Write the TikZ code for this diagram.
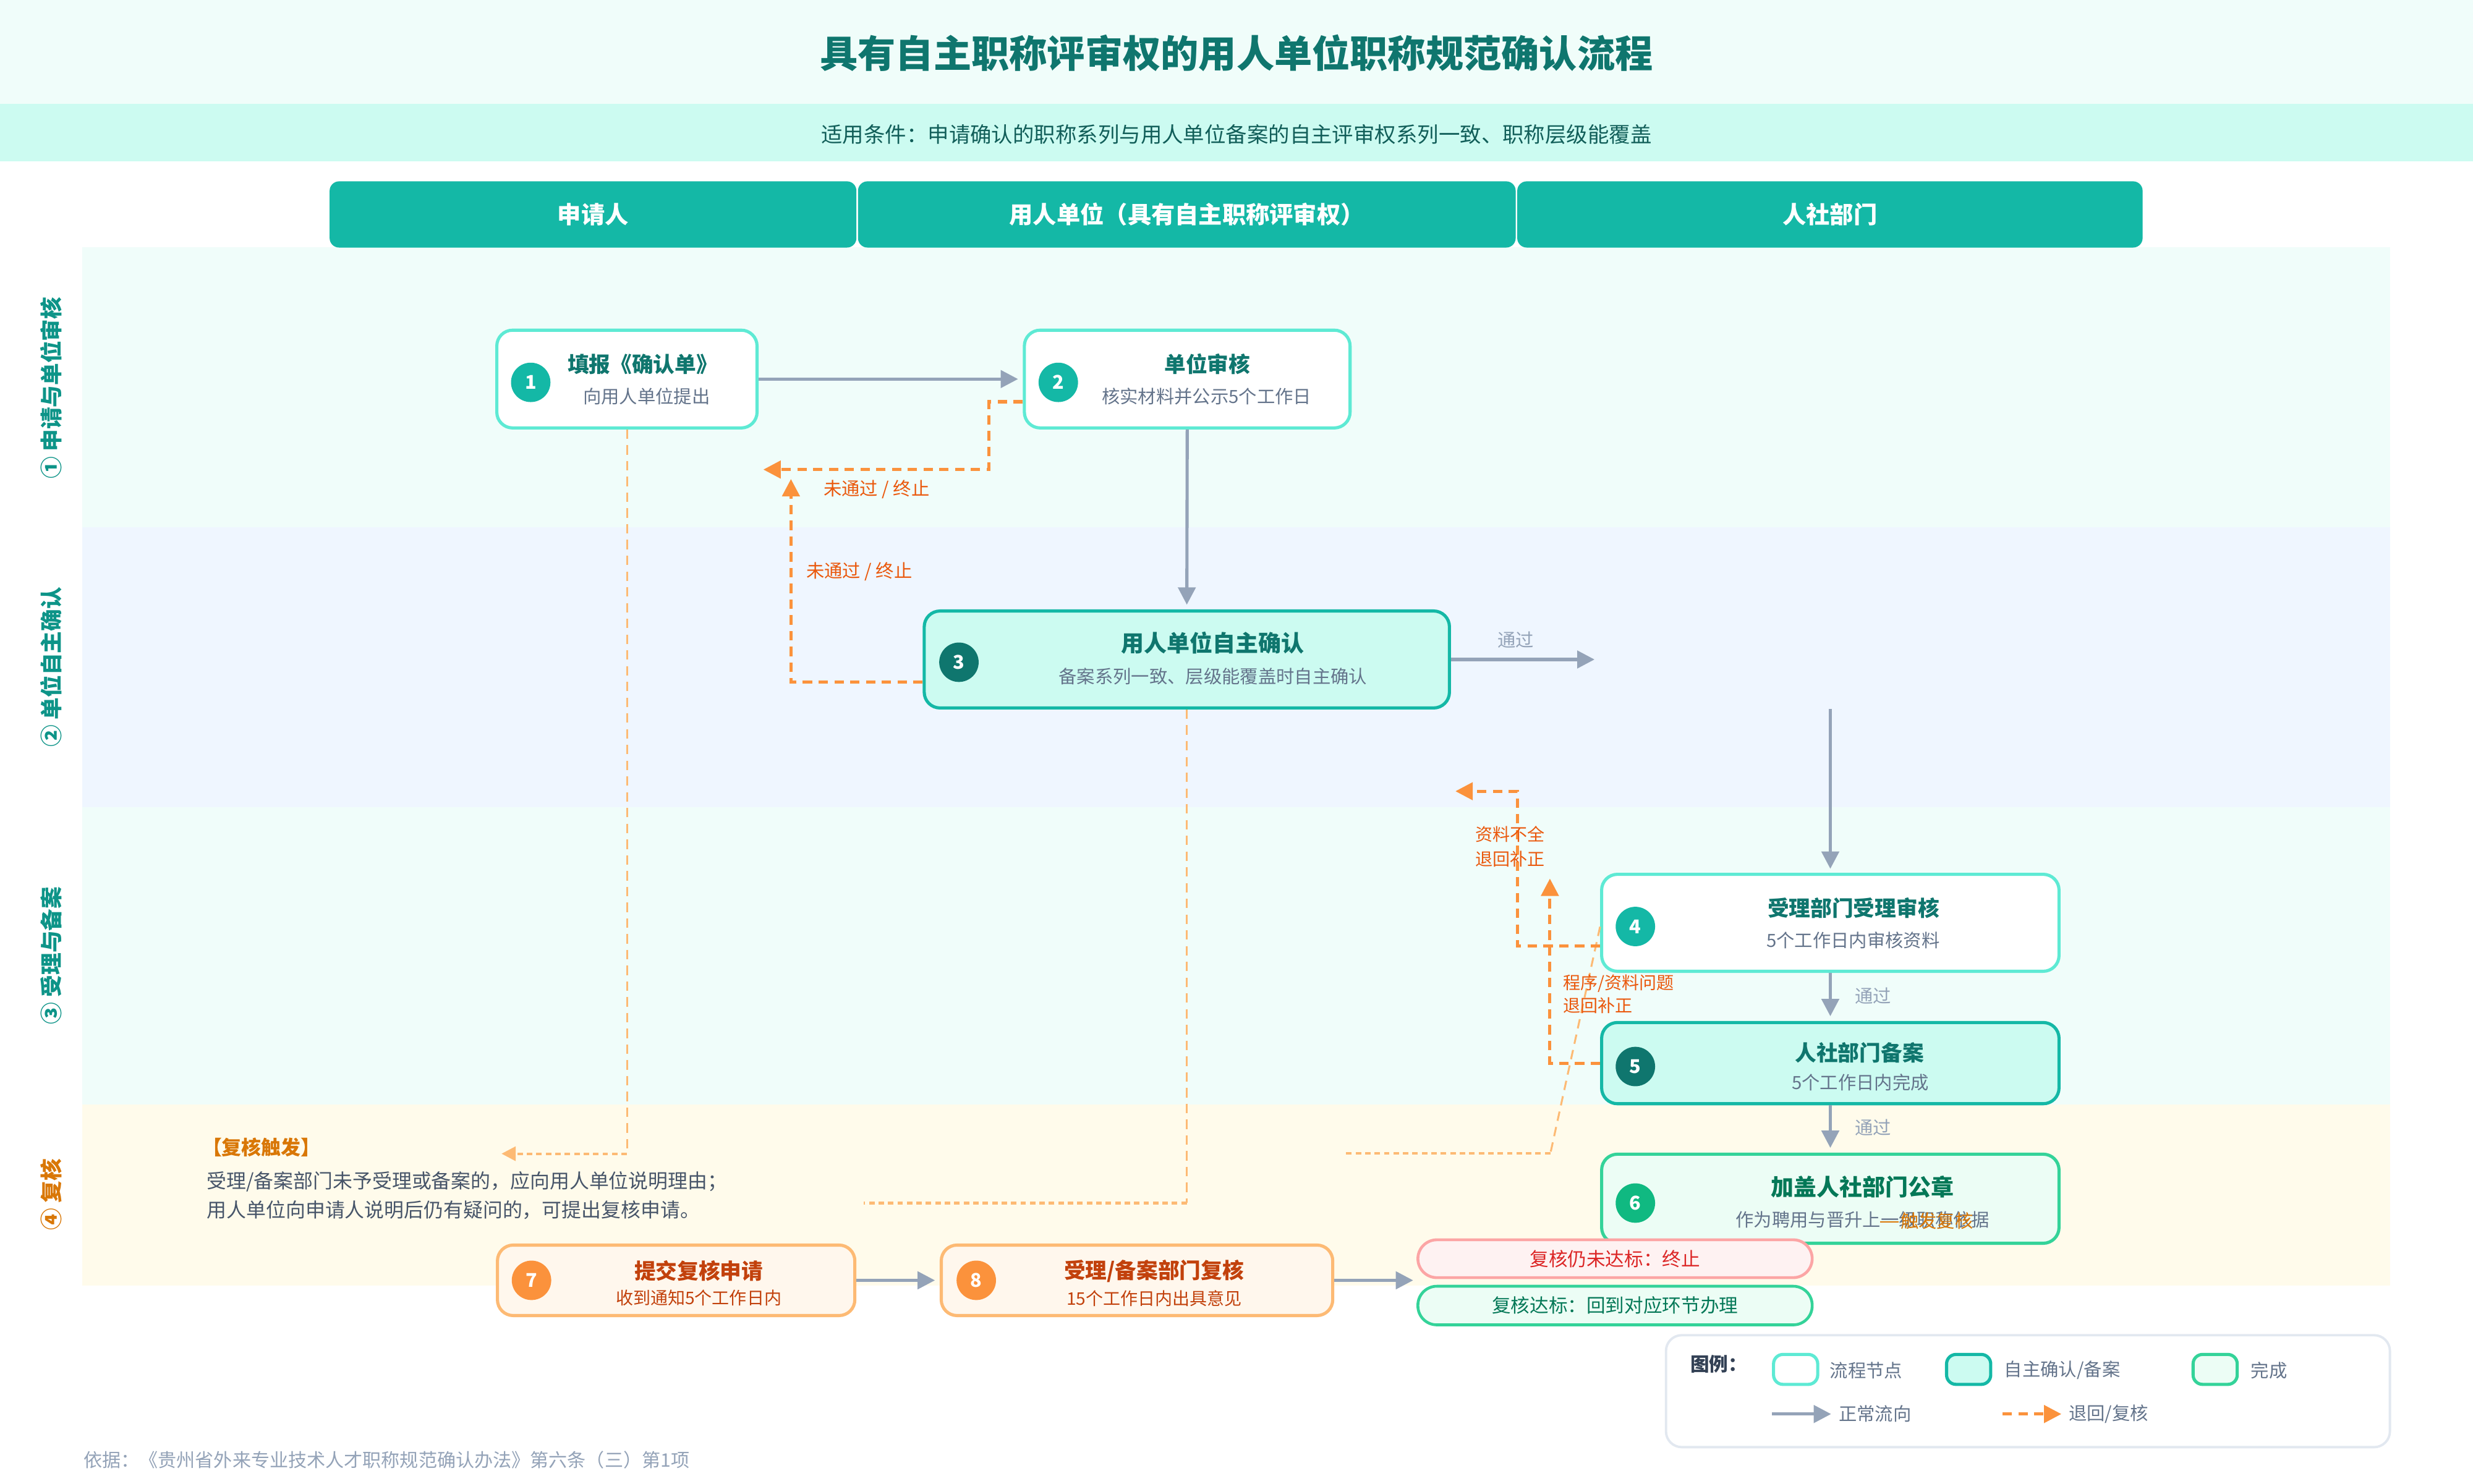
\documentclass[tikz,border=0pt]{standalone}
\usepackage{fontspec}
\setmainfont{Noto Sans CJK SC}
\usetikzlibrary{arrows.meta}
\definecolor{cBand}{HTML}{F0FDFA}
\definecolor{cSubBand}{HTML}{CCFBF1}
\definecolor{cTab}{HTML}{14B8A6}
\definecolor{cLaneA}{HTML}{F0FDFA}
\definecolor{cLaneB}{HTML}{EFF6FF}
\definecolor{cLaneD}{HTML}{FFFBEB}
\definecolor{cTealDark}{HTML}{0F766E}
\definecolor{cTeal}{HTML}{14B8A6}
\definecolor{cLight}{HTML}{5EEAD4}
\definecolor{cMint}{HTML}{CCFBF1}
\definecolor{cGreen}{HTML}{34D399}
\definecolor{cGreenBg}{HTML}{ECFDF5}
\definecolor{cGreenC}{HTML}{10B981}
\definecolor{cGreenT}{HTML}{047857}
\definecolor{cOrL}{HTML}{FDBA74}
\definecolor{cOr}{HTML}{FB923C}
\definecolor{cOrBg}{HTML}{FFF7ED}
\definecolor{cOrT}{HTML}{C2410C}
\definecolor{cOrLab}{HTML}{EA580C}
\definecolor{cAmber}{HTML}{D97706}
\definecolor{cGray}{HTML}{94A3B8}
\definecolor{cSub}{HTML}{64748B}
\definecolor{cPara}{HTML}{475569}
\definecolor{cRedBg}{HTML}{FEF2F2}
\definecolor{cRedB}{HTML}{FCA5A5}
\definecolor{cRedT}{HTML}{DC2626}
\definecolor{cLegB}{HTML}{E2E8F0}
\definecolor{cLegT}{HTML}{334155}
\definecolor{cLaneLab}{HTML}{0D9488}
\definecolor{cSubTxt}{HTML}{115E59}
\begin{document}
\begin{tikzpicture}[x=1pt,y=-1pt,
  proc/.style={rectangle, rounded corners=10pt, line width=2pt, inner sep=0pt},
  nodeA/.style={proc, draw=cLight, fill=white},
  nodeB/.style={proc, draw=cTeal, fill=cMint},
  nodeC/.style={proc, draw=cGreen, fill=cGreenBg},
  nodeD/.style={proc, draw=cOrL, fill=cOrBg},
  pill/.style={rectangle, rounded corners=12pt, line width=1.8pt, inner sep=0pt, minimum width=250pt},
  numc/.style={circle, minimum size=25pt, inner sep=0pt, text=white, font=\bfseries\fontsize{12}{12}\selectfont},
  ttl/.style={inner sep=0pt, font=\bfseries\fontsize{13.6}{16}\selectfont, text=cTealDark},
  subt/.style={inner sep=0pt, font=\fontsize{11.5}{14}\selectfont, text=cSub},
  tabhead/.style={rectangle, rounded corners=6pt, fill=cTab, inner sep=0pt, minimum height=42pt, text=white, font=\bfseries\fontsize{15}{18}\selectfont},
  lanelab/.style={rotate=90, inner sep=0pt, font=\bfseries\fontsize{14}{16}\selectfont},
  garrow/.style={draw=cGray, line width=2pt, -{Triangle[length=11pt,width=11pt]}},
  oret/.style={draw=cOr, line width=2pt, dash pattern=on 6pt off 4pt, -{Triangle[length=11pt,width=11pt]}},
  revv/.style={draw=cOrL, line width=1.2pt, dash pattern=on 6pt off 4pt},
  revh/.style={draw=cOrL, line width=1.6pt, dash pattern=on 3.5pt off 2.5pt},
  olab/.style={inner sep=0pt, font=\fontsize{11}{13}\selectfont, text=cOrLab},
  glab/.style={inner sep=0pt, font=\fontsize{11.5}{13}\selectfont, text=cGray},
  legsw/.style={rectangle, rounded corners=6pt, line width=2pt, minimum width=28pt, minimum height=19pt, inner sep=0pt},
  legtxt/.style={anchor=west, inner sep=0pt, font=\fontsize{11.5}{13}\selectfont, text=cSub}
]
\useasboundingbox (0,0) rectangle (1568,940.8);
\fill[white] (0,0) rectangle (1568,940.8);
% bands
\fill[cBand] (0,0) rectangle (1568,66);
\fill[cSubBand] (0,66) rectangle (1568,102.3);
\node[inner sep=0pt, font=\bfseries\fontsize{24}{28}\selectfont, text=cTealDark] (title) at (784,33.7) {具有自主职称评审权的用人单位职称规范确认流程};
\node[inner sep=0pt, font=\fontsize{13.5}{16}\selectfont, text=cSubTxt] (cond) at (784,85.3) {适用条件：申请确认的职称系列与用人单位备案的自主评审权系列一致、职称层级能覆盖};
% lanes
\fill[cLaneA] (52,156.8) rectangle (1515.5,334.4);
\fill[cLaneB] (52,334.4) rectangle (1515.5,511.8);
\fill[cLaneA] (52,511.8) rectangle (1515.5,700.4);
\fill[cLaneD] (52,700.4) rectangle (1515.5,815.2);
% header tabs
\node[tabhead, minimum width=334pt] (h1) at (376,136) {申请人};
\node[tabhead, minimum width=417pt] (h2) at (752.5,136) {用人单位（具有自主职称评审权）};
\node[tabhead, minimum width=396.5pt] (h3) at (1160.25,136) {人社部门};
% lane labels
\node[lanelab, text=cLaneLab] (l1) at (32.5,246) {① 申请与单位审核};
\node[lanelab, text=cLaneLab] (l2) at (32.5,423) {② 单位自主确认};
\node[lanelab, text=cLaneLab] (l3) at (32.5,606) {③ 受理与备案};
\node[lanelab, text=cAmber] (l4) at (32.5,757.6) {④ 复核};

% review trigger dashed lines (behind)
\coordinate (k1) at (397.5,731.7);
\coordinate (rv1) at (318,731.7);
\coordinate (k2) at (752.5,763);
\coordinate (rv2) at (547.8,763);
\coordinate (k3) at (983,731.5);
\coordinate (rv3) at (852,731.5);

% nodes
\node[nodeA, minimum width=165pt, minimum height=62pt] (n1) at (397.5,240.4) {};
\node[nodeA, minimum width=206.5pt, minimum height=62pt] (n2) at (752.75,240.4) {};
\node[nodeB, minimum width=333pt, minimum height=61.5pt] (n3) at (752.5,418.25) {};
\node[nodeA, minimum width=290pt, minimum height=61.5pt] (n4) at (1160.5,585.25) {};
\node[nodeB, minimum width=290pt, minimum height=51.5pt] (n5) at (1160.5,674.25) {};
\node[nodeC, minimum width=290pt, minimum height=56.5pt] (n6) at (1160.5,760.25) {};
\node[nodeD, minimum width=226.6pt, minimum height=44.7pt] (n7) at (428.7,812) {};
\node[nodeD, minimum width=248.2pt, minimum height=44.7pt] (n8) at (720.9,812) {};
\node[pill, draw=cRedB, fill=cRedBg, minimum height=24pt, text=cRedT, font=\fontsize{12}{14}\selectfont] (r1) at (1024,798.3) {复核仍未达标：终止};
\node[pill, draw=cGreen, fill=cGreenBg, minimum height=24.5pt, text=cGreenT, font=\fontsize{12}{14}\selectfont] (r2) at (1024,828) {复核达标：回到对应环节办理};

% circles
\node[numc, fill=cTeal] (c1) at (336.5,242.5) {1};
\node[numc, fill=cTeal] (c2) at (671,242.5) {2};
\node[numc, fill=cTealDark] (c3) at (608,420) {3};
\node[numc, fill=cTeal] (c4) at (1036.9,587.6) {4};
\node[numc, fill=cTealDark] (c5) at (1036.9,676.4) {5};
\node[numc, fill=cGreenC] (c6) at (1036.9,763) {6};
\node[numc, fill=cOr] (c7) at (337,812) {7};
\node[numc, fill=cOr] (c8) at (619,812) {8};

% titles and subtitles
\node[ttl] (t1) at (407.5,231) {填报《确认单》};
\node[subt] (s1) at (410,251.3) {向用人单位提出};
\node[ttl] (t2) at (765.5,231) {单位审核};
\node[subt] (s2) at (765,251.3) {核实材料并公示5个工作日};
\node[ttl, font=\bfseries\fontsize{14.5}{17}\selectfont] (t3) at (769,407.8) {用人单位自主确认};
\node[subt] (s3) at (769,428.8) {备案系列一致、层级能覆盖时自主确认};
\node[ttl] (t4) at (1175.2,575.8) {受理部门受理审核};
\node[subt] (s4) at (1175,596.3) {5个工作日内审核资料};
\node[ttl] (t5) at (1179,667.8) {人社部门备案};
\node[subt] (s5) at (1179.5,686.4) {5个工作日内完成};
\node[ttl, text=cGreenT, font=\bfseries\fontsize{14.5}{17}\selectfont] (t6) at (1181,752.8) {加盖人社部门公章};
\node[subt] (s6) at (1181,773.6) {作为聘用与晋升上一级职称依据};
\node[ttl, text=cOrT] (t7) at (443,806) {提交复核申请};
\node[subt, text=cOrT, font=\fontsize{11}{13}\selectfont] (s7) at (443,823.3) {收到通知5个工作日内};
\node[ttl, text=cOrT] (t8) at (731.7,806) {受理/备案部门复核};
\node[subt, text=cOrT, font=\fontsize{11}{13}\selectfont] (s8) at (731.8,823.3) {15个工作日内出具意见};
% overlapping orange label on node 6
\coordinate (od1) at (1192,775);
\coordinate (od2) at (1204,775);
\draw[cAmber, line width=1pt] (od1) -- (od2);
\node[inner sep=0pt, font=\fontsize{11.5}{13}\selectfont, text=cAmber] (trig6) at (1228,774.2) {触发复核};

% review trigger lines
\draw[revv] (n1.south) -- (k1);
\draw[revh, -{Triangle[length=9pt,width=9pt]}] (k1) -- (rv1);
\draw[revv] (n3.south) -- (k2);
\draw[revh] (k2) -- (rv2);
\draw[revv] ([yshift=-2.5pt]n4.west) -- (k3);
\draw[revh] (k3) -- (rv3);

% normal flow
\coordinate (p3r) at (1011,418.25);
\coordinate (p4t) at (1160.5,449.6);
\coordinate (p8r) at (896,812);
\draw[garrow] (n1.east) -- ([xshift=-3pt]n2.west);
\draw[garrow] (n2.south) -- ([yshift=3pt]n3.north);
\draw[garrow] (n3.east) -- (p3r);
\node[glab] (g1) at (961,406) {通过};
\draw[garrow] (p4t) -- ([yshift=2.5pt]n4.north);
\draw[garrow] (n4.south) -- ([yshift=3pt]n5.north);
\node[glab] (g2) at (1187.6,631.5) {通过};
\draw[garrow] (n5.south) -- ([yshift=3pt]n6.north);
\node[glab] (g3) at (1187.6,715) {通过};
\draw[garrow] (n7.east) -- ([xshift=-3pt]n8.west);
\draw[garrow] (n8.east) -- (p8r);

% return loops
\coordinate (rt1) at (484,297.8);
\coordinate (rt2) at (501.5,303.8);
\coordinate (rt3) at (922.8,501.8);
\coordinate (rt4) at (982.7,557.2);
\draw[oret] ([yshift=-14.4pt]n2.west) -- ++(-21.5,0) |- (rt1);
\node[olab, font=\fontsize{11.5}{13}\selectfont] (o1) at (555.8,310.4) {未通过 / 终止};
\draw[oret] ([yshift=-14.45pt]n3.west) -| (rt2);
\node[olab, font=\fontsize{11.5}{13}\selectfont] (o2) at (544.8,362.4) {未通过 / 终止};
\draw[oret] ([yshift=-14.55pt]n4.west) -- ++(-52.5,0) |- (rt3);
\node[olab] (o3) at (957.3,529.2) {资料不全};
\node[olab] (o4) at (957.3,544.8) {退回补正};
\draw[oret] (n5.west) -| (rt4);
\node[olab, anchor=west] (o5) at (991,623.7) {程序/资料问题};
\node[olab, anchor=west] (o6) at (991,637.8) {退回补正};

% review text
\node[anchor=west, inner sep=0pt, font=\bfseries\fontsize{12.5}{15}\selectfont, text=cAmber] (rvt) at (128,727.5) {【复核触发】};
\node[anchor=west, inner sep=0pt, font=\fontsize{12.5}{15}\selectfont, text=cPara] (rvl1) at (131,749.4) {受理/备案部门未予受理或备案的，应向用人单位说明理由；};
\node[anchor=west, inner sep=0pt, font=\fontsize{12.5}{15}\selectfont, text=cPara] (rvl2) at (131,767.3) {用人单位向申请人说明后仍有疑问的，可提出复核申请。};

% legend
\node[rectangle, rounded corners=10pt, draw=cLegB, line width=1.5pt, fill=white, minimum width=459pt, minimum height=71pt, inner sep=0pt] (leg) at (1285.8,882.3) {};
\node[anchor=west, inner sep=0pt, font=\bfseries\fontsize{12}{14}\selectfont, text=cLegT] (legt) at (1071.6,865) {图例：};
\node[legsw, draw=cLight, fill=white] (lg1) at (1138.5,868.5) {};
\node[legtxt] (lgt1) at (1160,869) {流程节点};
\node[legsw, draw=cTeal, fill=cMint] (lg2) at (1248.2,868.5) {};
\node[legtxt] (lgt2) at (1270.6,869) {自主确认/备案};
\node[legsw, draw=cGreen, fill=cGreenBg] (lg3) at (1404.5,868.5) {};
\node[legtxt] (lgt3) at (1427,869) {完成};
\coordinate (la1) at (1123.5,896.8);
\coordinate (la2) at (1161,896.8);
\draw[garrow] (la1) -- (la2);
\node[legtxt] (lgt4) at (1165.6,896.8) {正常流向};
\coordinate (lb1) at (1269.7,896.8);
\coordinate (lb2) at (1307,896.8);
\draw[oret] (lb1) -- (lb2);
\node[legtxt] (lgt5) at (1311.5,896.8) {退回/复核};

% footer
\node[anchor=west, inner sep=0pt, font=\fontsize{11.8}{14}\selectfont, text=cGray] (foot) at (52.8,926) {依据：《贵州省外来专业技术人才职称规范确认办法》第六条（三）第1项};
\end{tikzpicture}
\end{document}
